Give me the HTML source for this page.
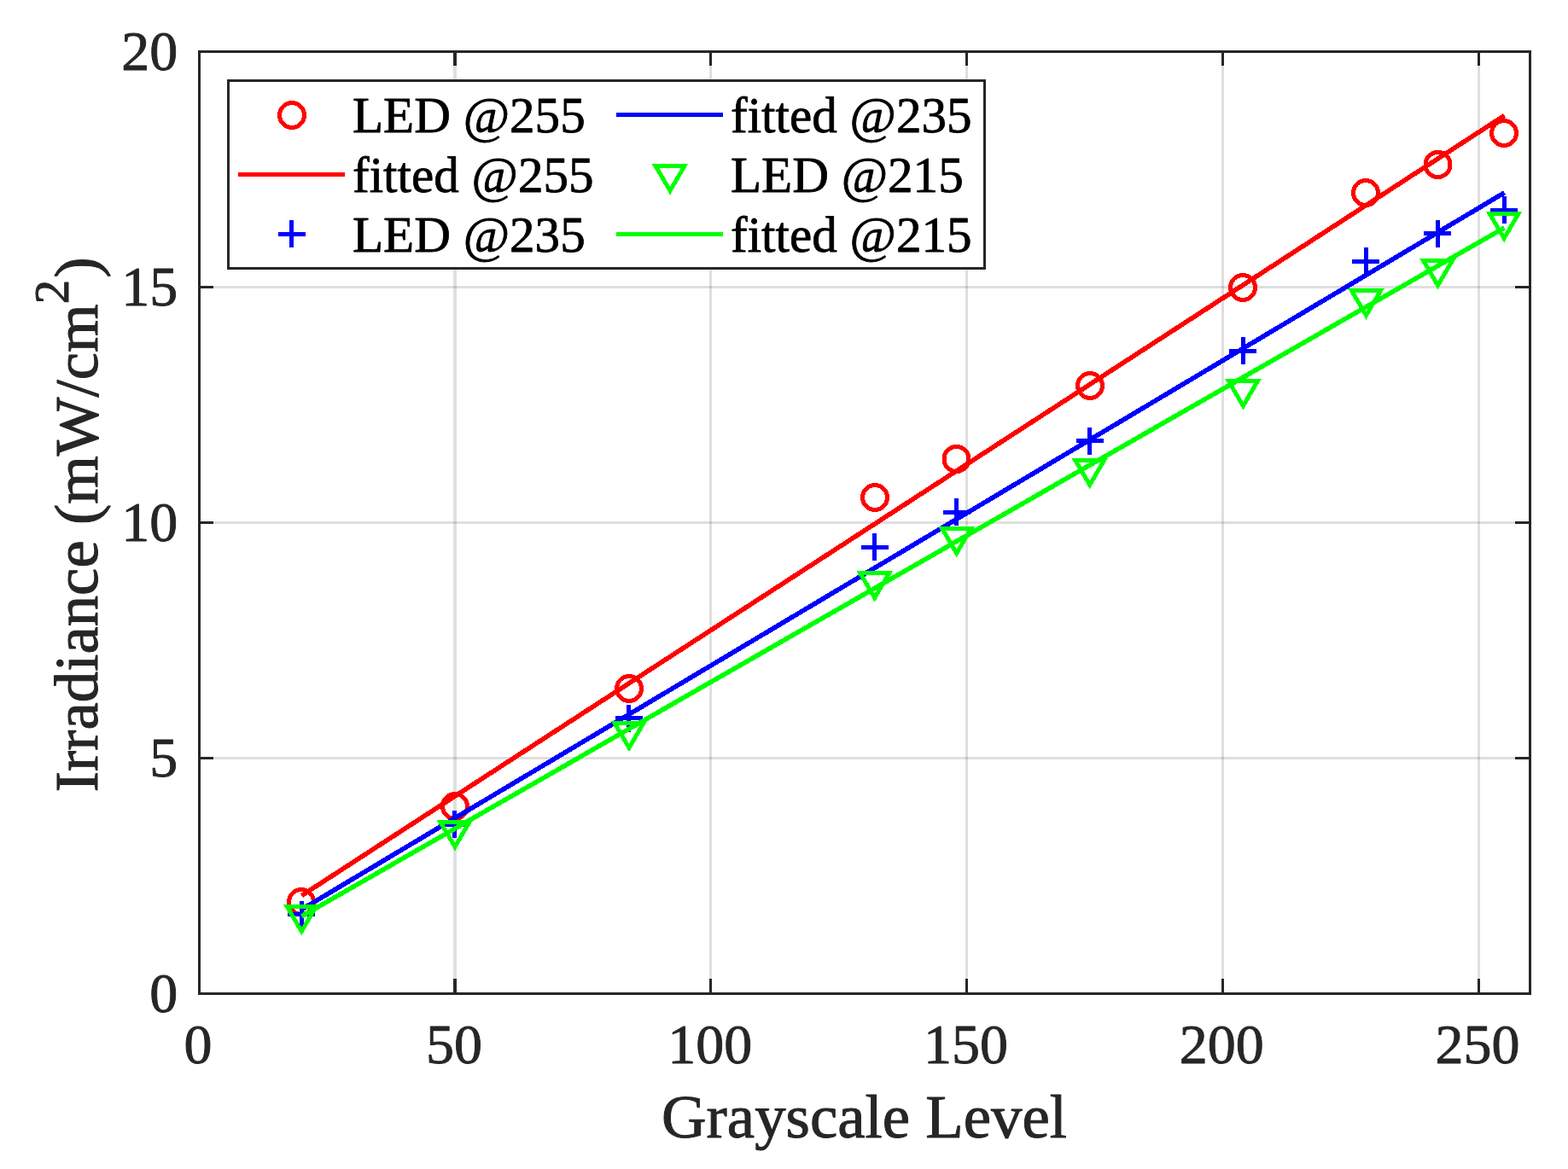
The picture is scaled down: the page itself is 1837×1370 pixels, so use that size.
<!DOCTYPE html>
<html lang="en">
<head>
<meta charset="utf-8">
<title>Irradiance vs Grayscale Level</title>
<style>
html,body{margin:0;padding:0;background:#fff;}
body{width:1837px;height:1370px;overflow:hidden;}
svg{display:block;}
text{font-family:"Liberation Serif",serif;}
.tk{font-size:66.0px;fill:#262626;stroke:#262626;stroke-width:0.9px;stroke-linejoin:round;}
.lb{font-size:72.8px;fill:#262626;stroke:#262626;stroke-width:1px;stroke-linejoin:round;}
.lg{font-size:59.1px;fill:#000;stroke:#000;stroke-width:0.8px;stroke-linejoin:round;}
</style>
</head>
<body>
<svg width="1837" height="1370" viewBox="0 0 1837 1370">
<rect x="0" y="0" width="1837" height="1370" fill="#ffffff"/>
<g fill="#262626" fill-opacity="0.15" shape-rendering="crispEdges">
<rect x="531" y="62" width="4" height="1101"/>
<rect x="831" y="62" width="3" height="1101"/>
<rect x="1131" y="62" width="3" height="1101"/>
<rect x="1431" y="62" width="3" height="1101"/>
<rect x="1731" y="62" width="3" height="1101"/>
<rect x="235" y="335" width="1556" height="3"/>
<rect x="235" y="611" width="1556" height="3"/>
<rect x="235" y="887" width="1556" height="3"/>
</g>
<g shape-rendering="crispEdges">
<circle cx="353.0" cy="1057.0" r="14.5" fill="none" stroke="#ff0000" stroke-width="5"/>
<circle cx="533.0" cy="945.0" r="14.5" fill="none" stroke="#ff0000" stroke-width="5"/>
<circle cx="737.0" cy="807.0" r="14.5" fill="none" stroke="#ff0000" stroke-width="5"/>
<circle cx="1025.0" cy="583.0" r="14.5" fill="none" stroke="#ff0000" stroke-width="5"/>
<circle cx="1120.5" cy="538.0" r="14.5" fill="none" stroke="#ff0000" stroke-width="5"/>
<circle cx="1277.0" cy="452.0" r="14.5" fill="none" stroke="#ff0000" stroke-width="5"/>
<circle cx="1456.0" cy="337.0" r="14.5" fill="none" stroke="#ff0000" stroke-width="5"/>
<circle cx="1600.0" cy="226.0" r="14.5" fill="none" stroke="#ff0000" stroke-width="5"/>
<circle cx="1684.5" cy="193.0" r="14.5" fill="none" stroke="#ff0000" stroke-width="5"/>
<circle cx="1762.0" cy="156.0" r="14.5" fill="none" stroke="#ff0000" stroke-width="5"/>
<line x1="353.4" y1="1049.6" x2="1762.5" y2="135.4" stroke="#ff0000" stroke-width="5.6"/>
<path d="M337 1069h32v5h-32zM351 1056h5v32h-5z" fill="#0000ff"/>
<path d="M517 964h32v5h-32zM530 950h5v32h-5z" fill="#0000ff"/>
<path d="M721 839h32v5h-32zM734 826h5v32h-5z" fill="#0000ff"/>
<path d="M1009 639h32v5h-32zM1022 625h5v32h-5z" fill="#0000ff"/>
<path d="M1105 598h32v5h-32zM1118 584h5v32h-5z" fill="#0000ff"/>
<path d="M1261 514h32v5h-32zM1274 501h5v32h-5z" fill="#0000ff"/>
<path d="M1440 409h32v5h-32zM1454 395h5v32h-5z" fill="#0000ff"/>
<path d="M1584 304h32v5h-32zM1598 290h5v32h-5z" fill="#0000ff"/>
<path d="M1668 271h32v5h-32zM1682 258h5v32h-5z" fill="#0000ff"/>
<path d="M1746 244h32v5h-32zM1760 230h5v32h-5z" fill="#0000ff"/>
<line x1="353.4" y1="1065.8" x2="1762.5" y2="225.8" stroke="#0000ff" stroke-width="5.6"/>
<path d="M336.3 1062.5H370.3L353.3 1091.5Z" fill="none" stroke="#00ff00" stroke-width="5" stroke-linejoin="miter"/>
<path d="M516.0 963.5H550.0L533.0 992.5Z" fill="none" stroke="#00ff00" stroke-width="5" stroke-linejoin="miter"/>
<path d="M720.0 847.4H754.0L737.0 876.4Z" fill="none" stroke="#00ff00" stroke-width="5" stroke-linejoin="miter"/>
<path d="M1007.7 671.7H1041.7L1024.7 700.7Z" fill="none" stroke="#00ff00" stroke-width="5" stroke-linejoin="miter"/>
<path d="M1103.7 619.4H1137.7L1120.7 648.4Z" fill="none" stroke="#00ff00" stroke-width="5" stroke-linejoin="miter"/>
<path d="M1259.7 539.3H1293.7L1276.7 568.3Z" fill="none" stroke="#00ff00" stroke-width="5" stroke-linejoin="miter"/>
<path d="M1439.4 446.7H1473.4L1456.4 475.7Z" fill="none" stroke="#00ff00" stroke-width="5" stroke-linejoin="miter"/>
<path d="M1583.5 340.6H1617.5L1600.5 369.6Z" fill="none" stroke="#00ff00" stroke-width="5" stroke-linejoin="miter"/>
<path d="M1667.5 305.4H1701.5L1684.5 334.4Z" fill="none" stroke="#00ff00" stroke-width="5" stroke-linejoin="miter"/>
<path d="M1745.1 250.3H1779.1L1762.1 279.3Z" fill="none" stroke="#00ff00" stroke-width="5" stroke-linejoin="miter"/>
<line x1="353.4" y1="1073.9" x2="1762.5" y2="266.9" stroke="#00ff00" stroke-width="5.6"/>
</g>
<g fill="#262626" shape-rendering="crispEdges">
<rect x="531" y="59" width="4" height="18"/><rect x="531" y="1147" width="4" height="19"/>
<rect x="831" y="59" width="3" height="18"/><rect x="831" y="1147" width="3" height="19"/>
<rect x="1131" y="59" width="3" height="18"/><rect x="1131" y="1147" width="3" height="19"/>
<rect x="1431" y="59" width="3" height="18"/><rect x="1431" y="1147" width="3" height="19"/>
<rect x="1731" y="59" width="3" height="18"/><rect x="1731" y="1147" width="3" height="19"/>
<rect x="232" y="335" width="18" height="3"/><rect x="1775" y="335" width="19" height="3"/>
<rect x="232" y="611" width="18" height="3"/><rect x="1775" y="611" width="19" height="3"/>
<rect x="232" y="887" width="18" height="3"/><rect x="1775" y="887" width="19" height="3"/>
<path fill-rule="evenodd" d="M232 59H1794V1166H232ZM235 62V1163H1791V62Z"/>
</g>
<g class="tk" text-anchor="middle">
<text x="232.1" y="1246.2">0</text>
<text x="531.9" y="1246.2">50</text>
<text x="831.7" y="1246.2">100</text>
<text x="1131.5" y="1246.2">150</text>
<text x="1431.3" y="1246.2">200</text>
<text x="1731.1" y="1246.2">250</text>
</g>
<g class="tk" text-anchor="end">
<text x="208.3" y="1185.8">0</text>
<text x="208.3" y="909.8">5</text>
<text x="208.3" y="633.8">10</text>
<text x="208.3" y="357.8">15</text>
<text x="208.3" y="81.8">20</text>
</g>
<text class="lb" text-anchor="middle" x="1012.5" y="1332.7">Grayscale Level</text>
<text class="lb" text-anchor="middle" transform="translate(114.4 614.8) rotate(-90)">Irradiance (mW/cm<tspan dy="-34" font-size="56.8">2</tspan><tspan dy="34" dx="2.4">)</tspan></text>
<rect x="267.5" y="94.5" width="886.0" height="220.0" fill="#fff" stroke="#262626" stroke-width="3"/>
<g shape-rendering="crispEdges">
<circle cx="342.0" cy="135.0" r="14.5" fill="none" stroke="#ff0000" stroke-width="5"/>
<line x1="279.0" y1="204.5" x2="404.0" y2="204.5" stroke="#ff0000" stroke-width="5"/>
<path d="M326 272h32v5h-32zM339 258h5v32h-5z" fill="#0000ff"/>
<line x1="722.0" y1="134.5" x2="847.0" y2="134.5" stroke="#0000ff" stroke-width="5"/>
<path d="M768.0 194.5H802.0L785.0 223.5Z" fill="none" stroke="#00ff00" stroke-width="5" stroke-linejoin="miter"/>
<line x1="722.0" y1="274.5" x2="847.0" y2="274.5" stroke="#00ff00" stroke-width="5"/>
</g>
<g class="lg">
<text x="413" y="154.5">LED @255</text>
<text x="413" y="224.5">fitted @255</text>
<text x="413" y="294.5">LED @235</text>
<text x="856" y="154.5">fitted @235</text>
<text x="856" y="224.5">LED @215</text>
<text x="856" y="294.5">fitted @215</text>
</g>
</svg>
</body>
</html>
